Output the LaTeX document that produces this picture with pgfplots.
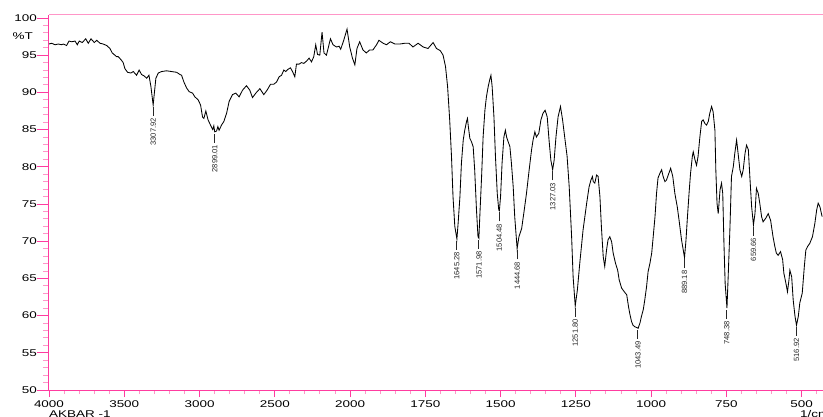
\documentclass[border=0pt]{standalone}
\usepackage{fontspec}
\setmainfont{Liberation Sans}[FakeStretch=1.38]
\newfontfamily\peakfamily{Liberation Sans}
\usepackage{pgfplots}
\pgfplotsset{compat=1.18}
\definecolor{axpink}{RGB}{255,60,160}
\definecolor{lpink}{RGB}{255,150,200}
\newcommand{\tickfont}{\fontsize{9.8}{11}\selectfont}
\newcommand{\pkfont}{\peakfamily\fontsize{7.6}{8}\selectfont}
\newcommand{\pk}[3]{\node[rotate=90,anchor=east,inner sep=0pt,font=\pkfont,text=black!85] at ([yshift=-1.5bp]axis cs:#1,#2) {#3\hspace{2.5bp}\rule[0.32em]{9bp}{0.8bp}};}
\pgfplotstableread{
wn T
4000 96.5
3982 96.6
3960 96.4
3938 96.5
3916 96.4
3905 96.5
3883 96.3
3867 96.9
3849 96.8
3827 96.9
3812 96.4
3799 96.9
3779 96.7
3756 97.2
3739 96.6
3721 97.2
3699 96.7
3683 97.0
3661 96.6
3640 96.5
3617 96.3
3595 95.9
3580 95.3
3562 95.0
3551 94.8
3540 94.8
3522 94.4
3507 94.0
3496 93.2
3478 92.7
3456 92.6
3440 92.8
3418 92.3
3401 93.0
3385 92.4
3367 92.2
3351 91.9
3336 92.3
3323 90.8
3308 88.3
3301 89.7
3290 91.9
3274 92.6
3252 92.8
3219 92.9
3186 92.8
3152 92.7
3130 92.4
3119 92.3
3104 91.4
3086 90.6
3069 90.1
3046 89.9
3031 89.4
3009 89.0
2993 88.3
2980 86.7
2971 86.5
2958 87.5
2943 86.3
2927 85.6
2912 85.0
2905 85.5
2899 84.7
2887 84.8
2878 85.4
2870 84.9
2854 85.6
2838 86.1
2820 87.2
2803 88.8
2781 89.7
2759 89.9
2737 89.4
2714 90.3
2688 90.9
2666 90.3
2648 89.3
2626 89.9
2599 90.5
2573 89.7
2551 90.3
2528 91.1
2506 91.1
2488 91.4
2471 92.1
2455 92.3
2440 93.0
2427 92.8
2412 93.1
2396 93.3
2382 92.8
2367 92.1
2356 93.8
2338 93.8
2323 94.0
2307 93.9
2289 94.2
2272 94.6
2256 94.1
2241 94.8
2228 96.4
2216 95.1
2201 95.0
2186 98.1
2173 95.3
2157 95.0
2130 97.2
2113 96.4
2090 96.1
2073 96.2
2062 95.8
2042 97.0
2020 98.5
2002 96.1
1992 94.6
1984 93.7
1977 95.9
1968 96.8
1957 95.7
1946 95.3
1935 95.7
1924 95.7
1912 96.4
1904 97.0
1890 96.6
1879 96.4
1866 96.8
1851 96.5
1835 96.5
1818 96.6
1804 96.6
1791 96.1
1774 96.6
1757 96.1
1741 95.9
1724 96.7
1713 95.9
1700 95.6
1691 95.0
1683 93.5
1676 90.8
1669 86.3
1663 81.4
1658 76.0
1652 72.0
1645 70.3
1641 72.4
1635 76.0
1630 80.5
1624 83.6
1619 84.9
1613 86.1
1610 86.5
1607 85.4
1602 83.8
1597 83.4
1591 82.7
1586 79.6
1580 74.2
1575 70.6
1572 70.4
1569 73.3
1563 78.7
1558 84.0
1552 87.6
1547 89.4
1541 90.8
1536 91.7
1532 92.3
1528 90.8
1522 86.7
1517 81.4
1511 76.4
1506 74.2
1504 74.1
1500 76.0
1495 80.5
1489 84.0
1484 84.9
1480 84.0
1475 83.4
1469 82.7
1464 80.5
1458 77.3
1453 73.3
1445 69.0
1439 70.6
1430 71.7
1423 73.7
1414 76.4
1405 79.6
1397 82.3
1392 83.6
1386 84.7
1381 84.0
1373 84.5
1366 86.3
1359 87.2
1352 87.6
1345 86.7
1339 83.6
1333 80.9
1327 79.6
1322 80.9
1316 84.0
1309 86.7
1301 88.1
1294 86.3
1287 84.0
1279 81.4
1272 77.3
1264 70.6
1259 65.2
1252 61.3
1245 63.4
1237 67.0
1226 71.5
1214 75.1
1206 77.3
1200 78.2
1195 78.7
1192 78.0
1187 77.8
1181 78.9
1176 78.7
1170 76.0
1165 71.9
1159 67.9
1154 66.6
1148 68.8
1143 70.2
1137 70.6
1131 69.9
1126 68.4
1118 67.0
1111 66.1
1106 64.8
1098 63.7
1089 63.2
1081 62.8
1075 61.2
1071 60.3
1065 59.2
1060 58.7
1054 58.5
1048 58.4
1043 58.3
1037 59.0
1032 59.9
1026 60.8
1021 62.1
1015 63.9
1010 65.9
1004 67.0
998 68.4
993 70.6
987 73.3
982 76.4
977 78.5
971 79.1
965 79.6
960 78.7
954 78.0
949 78.2
943 78.9
935 79.8
928 78.7
921 76.4
913 74.6
907 72.8
899 70.2
889 67.8
884 70.2
880 72.8
874 76.4
869 79.1
863 81.4
860 82.0
854 80.9
849 80.2
844 81.4
838 84.0
832 86.1
827 86.3
821 85.8
816 85.6
810 86.1
805 87.2
799 88.1
794 87.4
788 84.9
785 79.6
781 75.1
777 73.7
771 76.9
766 77.8
762 76.4
758 69.7
754 64.3
748 61.0
744 65.2
738 71.9
733 78.7
727 80.0
722 81.8
716 83.6
711 81.8
705 79.6
699 78.7
694 79.6
688 81.8
683 82.9
677 82.3
672 78.7
666 74.6
660 72.2
655 73.7
650 77.1
644 76.4
639 75.1
633 73.3
628 72.6
619 73.1
611 73.7
603 72.8
595 70.6
589 69.3
584 68.4
578 68.1
570 68.6
563 67.5
559 65.7
552 64.3
547 63.2
542 64.8
539 66.1
533 65.2
528 62.1
522 59.9
517 58.7
511 59.9
506 61.7
498 63.0
491 66.6
486 68.8
480 69.3
473 69.7
464 70.6
456 72.4
450 74.2
445 75.1
439 74.6
432 73.3
}\spectrum
\begin{document}
\begin{tikzpicture}
\begin{axis}[
  width=774bp, height=375bp, scale only axis,
  x coord trafo/.code={\pgfmathparse{(#1>2000)*(1000+0.5*#1)+(#1<=2000)*#1}},
  x coord inv trafo/.code={\pgfmathparse{(#1>2000)*(2*#1-2000)+(#1<=2000)*#1}},
  xmin=429, xmax=4000, ymin=50, ymax=100.4, x dir=reverse,
  axis x line*=bottom, axis y line*=left,
  axis line style={draw=axpink, line width=1bp, -},
  tick align=outside,
  major tick length=12bp, minor tick length=6bp,
  major tick style={draw=axpink, line width=0.9bp},
  minor tick style={draw=lpink, line width=0.9bp},
  every major x tick/.append style={/pgfplots/major tick length=7bp},
  every minor x tick/.append style={/pgfplots/minor tick length=4bp},
  ytick={50,55,...,100}, minor y tick num=4,
  xtick={500,750,1000,1250,1500,1750,2000,2500,3000,3500,4000},
  xticklabels={500,750,1000,1250,1500,1750,2000,2500,3000,3500,4000},
  minor xtick={450,550,600,650,700,800,850,900,950,1050,1100,1150,1200,1300,1350,1400,1450,1550,1600,1650,1700,1800,1850,1900,1950,2100,2200,2300,2400,2600,2700,2800,2900,3100,3200,3300,3400,3600,3700,3800,3900},
  ticklabel style={font=\tickfont, inner sep=0pt},
  xticklabel style={yshift=2bp},
  /pgf/number format/assume math mode=true,
]
\addplot[black, line width=0.85bp, no marks] table[x=wn, y=T] {\spectrum};
\pk{3307.92}{88.3}{3307.92}
\pk{2899.01}{84.7}{2899.01}
\pk{1645.28}{70.3}{1645.28}
\pk{1571.98}{70.4}{1571.98}
\pk{1504.48}{74.1}{1504.48}
\pk{1444.68}{69.0}{1444.68}
\pk{1327.03}{79.6}{1327.03}
\pk{1251.80}{61.3}{1251.80}
\pk{1043.49}{58.3}{1043.49}
\pk{889.18}{67.8}{889.18}
\pk{748.38}{61.0}{748.38}
\pk{659.66}{72.2}{659.66}
\pk{516.92}{58.7}{516.92}
\end{axis}
\draw[lpink, line width=1bp] (current axis.north west) -- (current axis.north east);
\node[anchor=base west, inner sep=0pt, font=\tickfont] at ([yshift=-27bp]current axis.south west) {AKBAR -1};
\node[anchor=base west, inner sep=0pt, font=\tickfont] at ([xshift=751bp,yshift=-27bp]current axis.south west) {1/cm};
\node[anchor=base east, inner sep=0pt, font=\tickfont] at ([xshift=-16bp,yshift=-24.5bp]current axis.north west) {\%T};
\pgfresetboundingbox
\path ([xshift=-49bp,yshift=-27bp]current axis.south west) rectangle ([yshift=15bp]current axis.north east);
\end{tikzpicture}
\end{document}
